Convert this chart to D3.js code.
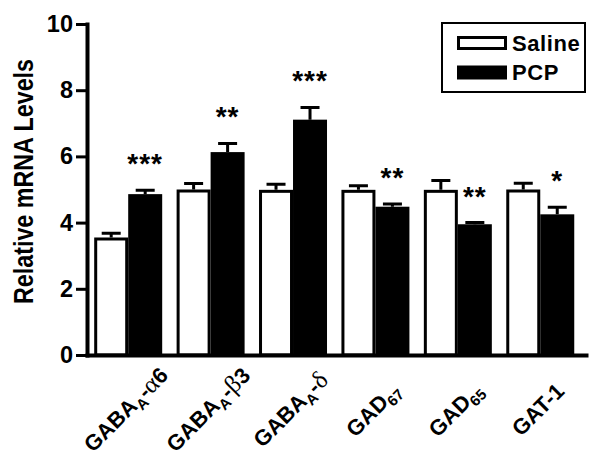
<!DOCTYPE html>
<html>
<head>
<meta charset="utf-8">
<script src="https://cdn.jsdelivr.net/npm/d3@7"></script>
<style>
  body { margin: 0; background: #fff; }
  svg { display: block; font-family: "Liberation Sans", Arial, sans-serif; font-weight: bold; }
</style>
</head>
<body>
<div id="chart"></div>
<script>
(function () {
    /* ----------------------- Data ----------------------- */
    // "_" marks a subscript part of the label
    const categories = ["GABA_A-α6", "GABA_A-β3", "GABA_A-δ", "GAD_67", "GAD_65", "GAT-1"];
    const groups = ["Saline", "PCP"];
    const salineValues = [3.55, 5.0, 4.99, 4.99, 4.99, 5.0];
    const salineErrors = [0.13, 0.18, 0.17, 0.12, 0.28, 0.19];
    const pcpValues = [4.86, 6.13, 7.11, 4.48, 3.95, 4.25];
    const pcpErrors = [0.12, 0.26, 0.37, 0.08, 0.05, 0.21];
    const stars = ["***", "**", "***", "**", "**", "*"];
    const yTicks = [0, 2, 4, 6, 8, 10];

    /* ----------------------- Dimensions ----------------------- */
    const width = 600, height = 469;
    const plot = { left: 87, right: 586, top: 24, bottom: 355 };

    const svg = d3.select("#chart").append("svg")
        .attr("width", width)
        .attr("height", height);

    /* ----------------------- Scales ----------------------- */
    const x0 = d3.scaleBand().domain(categories)
        .range([plot.left, plot.right])
        .paddingInner(0.175).paddingOuter(0.115).align(0.38);
    const x1 = d3.scaleBand().domain(groups).range([0, x0.bandwidth()]).padding(0);
    const y = d3.scaleLinear().domain([0, 10]).range([plot.bottom, plot.top]);

    const rows = categories.map((c, i) => ({
        cat: c,
        bars: [
            { group: "Saline", value: salineValues[i], err: salineErrors[i] },
            { group: "PCP", value: pcpValues[i], err: pcpErrors[i] }
        ],
        star: stars[i]
    }));

    /* ----------------------- Bars ----------------------- */
    const g = svg.selectAll(".cat").data(rows).enter().append("g")
        .attr("class", "cat")
        .attr("transform", d => `translate(${x0(d.cat)},0)`);

    const sw = 3;
    const isSal = d => d.group === "Saline";
    g.selectAll("rect").data(d => d.bars).enter().append("rect")
        .attr("x", d => x1(d.group) + (isSal(d) ? sw / 2 : 0))
        .attr("y", d => y(d.value) + (isSal(d) ? sw / 2 : 0))
        .attr("width", d => x1.bandwidth() - (isSal(d) ? sw : 0))
        .attr("height", d => y(0) - y(d.value) - (isSal(d) ? sw / 2 : 0))
        .attr("fill", d => isSal(d) ? "#fff" : "#000")
        .attr("stroke", d => isSal(d) ? "#000" : "none")
        .attr("stroke-width", sw);

    // upper error bars only
    const capW = 19;
    g.selectAll(".err").data(d => d.bars).enter().append("path")
        .attr("class", "err")
        .attr("fill", "none")
        .attr("stroke", "#000")
        .attr("stroke-width", 3)
        .attr("d", d => {
            const cx = x1(d.group) + x1.bandwidth() / 2;
            const top = y(d.value + d.err);
            return `M${cx},${y(d.value)}V${top}M${cx - capW / 2},${top}H${cx + capW / 2}`;
        });

    // significance stars
    g.append("text")
        .attr("x", x1("PCP") + x1.bandwidth() / 2)
        .attr("y", d => y(d.bars[1].value + d.bars[1].err) - 17)
        .attr("text-anchor", "middle")
        .attr("font-size", 28)
        .attr("letter-spacing", 1)
        .text(d => d.star);

    /* ----------------------- Axes ----------------------- */
    const yAxis = d3.axisLeft(y).tickValues(yTicks).tickSize(11).tickSizeOuter(0).tickPadding(3);
    const yG = svg.append("g")
        .attr("transform", `translate(${plot.left},0)`)
        .call(yAxis);
    yG.select(".domain").attr("stroke-width", 4).attr("stroke-linecap", "square");
    yG.selectAll(".tick line").attr("stroke-width", 3);
    yG.selectAll(".tick text")
        .attr("font-size", 23.5).attr("font-family", "Liberation Sans, Arial, sans-serif")
        .attr("font-weight", "bold").attr("fill", "#000");

    const xAxis = d3.axisBottom(x0).tickSize(0).tickSizeOuter(0).tickFormat("");
    const xG = svg.append("g")
        .attr("transform", `translate(0,${plot.bottom})`)
        .call(xAxis);
    xG.select(".domain").attr("stroke-width", 4).attr("stroke-linecap", "square");

    // rotated category labels with subscripts and greek letters
    const greek = /[α-ω]/;
    categories.forEach(c => {
        const cx = x0(c) + x0.bandwidth() / 2 + 3;
        const t = svg.append("text")
            .attr("transform", `translate(${cx},415) rotate(-45)`)
            .attr("text-anchor", "middle")
            .attr("font-size", 22);
        const parts = c.split("_");
        let sub = false;
        const tokens = [{ s: parts[0], sub: false }];
        if (parts[1] !== undefined) {
            const m = parts[1].match(/^([A-Z]+|\d+)(.*)$/);
            tokens.push({ s: m[1], sub: true });
            if (m[2]) tokens.push({ s: m[2], sub: false });
        }
        tokens.forEach(tok => {
            if (tok.sub) {
                t.append("tspan").attr("dy", 5).attr("font-size", 15).text(tok.s);
                sub = true;
            } else {
                const dy = sub ? -5 : 0;
                sub = false;
                let first = true;
                tok.s.split(/([α-ω])/).filter(s => s).forEach(piece => {
                    const ts = t.append("tspan").text(piece);
                    if (first && dy) ts.attr("dy", dy);
                    first = false;
                    if (greek.test(piece)) {
                        ts.attr("font-family", "Liberation Serif, serif")
                          .attr("font-weight", "normal").attr("font-size", 25);
                    }
                });
            }
        });
    });

    // y axis title
    svg.append("text")
        .attr("transform", "translate(33,181.5) rotate(-90)")
        .attr("text-anchor", "middle")
        .attr("font-size", 27)
        .attr("textLength", 245)
        .attr("lengthAdjust", "spacingAndGlyphs")
        .text("Relative mRNA Levels");

    /* ----------------------- Legend ----------------------- */
    const legend = svg.append("g").attr("transform", "translate(442,23)");
    legend.append("rect")
        .attr("width", 143).attr("height", 69)
        .attr("fill", "#fff").attr("stroke", "#000").attr("stroke-width", 2);
    groups.forEach((grp, i) => {
        const ly = 13 + i * 29.5;
        const sal = grp === "Saline";
        legend.append("rect")
            .attr("x", sal ? 16.5 : 15).attr("y", ly + (sal ? 1.5 : 0))
            .attr("width", sal ? 47 : 50)
            .attr("height", sal ? 11 : 14)
            .attr("fill", sal ? "#fff" : "#000")
            .attr("stroke", sal ? "#000" : "none")
            .attr("stroke-width", 3);
        legend.append("text")
            .attr("x", 70).attr("y", ly + 14.5)
            .attr("font-size", 22)
            .attr("letter-spacing", 0.6)
            .text(grp);
    });
})();
</script>
</body>
</html>
